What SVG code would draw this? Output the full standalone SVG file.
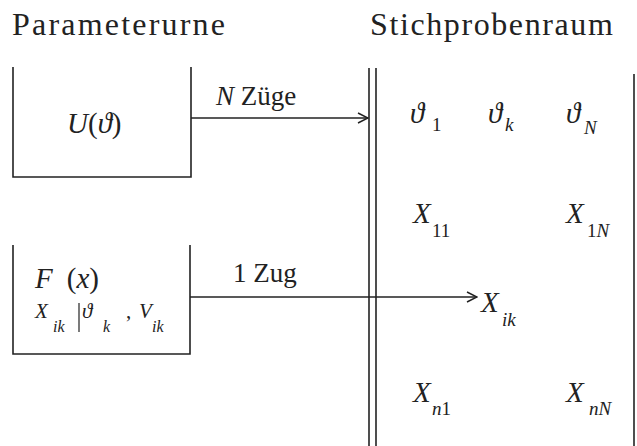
<svg xmlns="http://www.w3.org/2000/svg" width="637" height="446" viewBox="0 0 637 446" font-family="'Liberation Serif', 'Times New Roman', serif">
<defs>
<marker id="ah" markerWidth="12" markerHeight="12" refX="11" refY="6" orient="auto" markerUnits="userSpaceOnUse">
<path d="M1,1 L11,6 L1,11" fill="none" stroke="#222" stroke-width="1.5"/>
</marker>
</defs>
<rect width="637" height="446" fill="#fff"/>
<text x="12" y="35" font-family="'Liberation Serif', serif" font-size="32" letter-spacing="2.2" fill="#222">Parameterurne</text>
<text x="370" y="35" font-family="'Liberation Serif', serif" font-size="32" letter-spacing="1.6" fill="#222">Stichprobenraum</text>
<g id="urne1">
<path d="M13,67 V177 H191 V67" fill="none" stroke="#222" stroke-width="1.6"/>
<text x="67" y="133" font-family="'Liberation Serif', serif" font-size="29" font-style="italic" fill="#222">U<tspan font-style="normal">(</tspan>&#977;<tspan font-style="normal">)</tspan></text>
</g>
<g id="urne2">
<path d="M13,245 V354 H190 V245" fill="none" stroke="#222" stroke-width="1.6"/>
<text x="35" y="288" font-family="'Liberation Serif', serif" font-size="29" font-style="italic" fill="#222">F<tspan dx="14" font-style="normal">(</tspan>x<tspan font-style="normal">)</tspan></text>
<text x="35" y="318" font-family="'Liberation Serif', serif" font-size="21" font-style="italic" fill="#222">X</text>
<text x="53" y="332" font-family="'Liberation Serif', serif" font-size="16" font-style="italic" fill="#222">ik</text>
<line x1="79" y1="303" x2="79" y2="332" stroke="#222" stroke-width="1.2"/>
<text x="82" y="318" font-family="'Liberation Serif', serif" font-size="21" font-style="italic" fill="#222">&#977;</text>
<text x="103" y="332" font-family="'Liberation Serif', serif" font-size="16" font-style="italic" fill="#222">k</text>
<text x="126" y="318" font-family="'Liberation Serif', serif" font-size="21" fill="#222">,</text>
<text x="139" y="318" font-family="'Liberation Serif', serif" font-size="21" font-style="italic" fill="#222">V</text>
<text x="152" y="332" font-family="'Liberation Serif', serif" font-size="16" font-style="italic" fill="#222">ik</text>
</g>
<g id="stichprobenraum">
<line x1="369" y1="68" x2="369" y2="446" stroke="#222" stroke-width="1.6"/>
<line x1="376" y1="68" x2="376" y2="446" stroke="#222" stroke-width="1.6"/>
<line x1="634" y1="74" x2="634" y2="446" stroke="#222" stroke-width="1.6"/>
<text x="410" y="123" font-family="'Liberation Serif', serif" font-size="29" font-style="italic" fill="#222">&#977;</text>
<text x="432" y="131" font-family="'Liberation Serif', serif" font-size="19" fill="#222">1</text>
<text x="488" y="123" font-family="'Liberation Serif', serif" font-size="29" font-style="italic" fill="#222">&#977;</text>
<text x="505" y="131" font-family="'Liberation Serif', serif" font-size="19" font-style="italic" fill="#222">k</text>
<text x="566" y="123" font-family="'Liberation Serif', serif" font-size="29" font-style="italic" fill="#222">&#977;</text>
<text x="584" y="134" font-family="'Liberation Serif', serif" font-size="19" font-style="italic" fill="#222">N</text>
<text x="413" y="223" font-family="'Liberation Serif', serif" font-size="29" font-style="italic" fill="#222">X</text>
<text x="432" y="237" font-family="'Liberation Serif', serif" font-size="19" fill="#222">11</text>
<text x="566" y="223" font-family="'Liberation Serif', serif" font-size="29" font-style="italic" fill="#222">X</text>
<text x="587" y="237" font-family="'Liberation Serif', serif" font-size="19" font-style="italic" fill="#222"><tspan font-style="normal">1</tspan>N</text>
<text x="481" y="312" font-family="'Liberation Serif', serif" font-size="29" font-style="italic" fill="#222">X</text>
<text x="502" y="326" font-family="'Liberation Serif', serif" font-size="19" font-style="italic" fill="#222">ik</text>
<text x="413" y="402" font-family="'Liberation Serif', serif" font-size="29" font-style="italic" fill="#222">X</text>
<text x="432" y="415" font-family="'Liberation Serif', serif" font-size="19" font-style="italic" fill="#222">n<tspan font-style="normal">1</tspan></text>
<text x="566" y="402" font-family="'Liberation Serif', serif" font-size="29" font-style="italic" fill="#222">X</text>
<text x="589" y="415" font-family="'Liberation Serif', serif" font-size="19" font-style="italic" fill="#222">nN</text>
</g>
<g id="connectors">
<line x1="191" y1="118" x2="368" y2="118" stroke="#222" stroke-width="1.6" marker-end="url(#ah)"/>
<line x1="190" y1="297" x2="477" y2="297" stroke="#222" stroke-width="1.6" marker-end="url(#ah)"/>
<text x="216" y="105" font-family="'Liberation Serif', serif" font-size="27" fill="#222"><tspan font-style="italic">N</tspan> Z&#252;ge</text>
<text x="233" y="282" font-family="'Liberation Serif', serif" font-size="27" fill="#222">1 Zug</text>
</g>
</svg>
